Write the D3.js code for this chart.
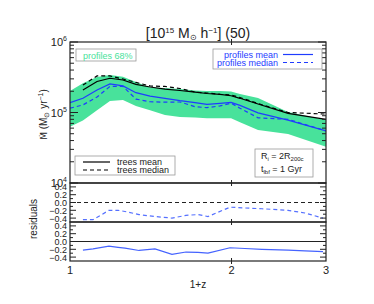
<!DOCTYPE html>
<html>
<head>
<meta charset="utf-8">
<script src="https://cdn.jsdelivr.net/npm/d3@7"></script>
<style>
  body { margin: 0; background: #fff; }
  svg { font-family: "Liberation Sans", Arial, sans-serif; }
</style>
</head>
<body>
<div id="chart"></div>
<script>
// 1+z knots for the main panel
const zMain = [1.0, 1.057, 1.123, 1.187, 1.255, 1.327, 1.41, 1.503, 1.603, 1.71, 1.8, 1.904, 1.996, 2.074, 2.241, 2.549, 3.0];
// trees start at the second knot
const treesMean = [null, 2.08e5, 2.75e5, 3.06e5, 2.89e5, 2.51e5, 2.30e5, 2.15e5, 2.05e5, 1.94e5, 1.86e5, 1.81e5, 1.73e5, 1.59e5, 1.32e5, 9.7e4, 8.0e4];
const treesMedian = [null, 2.45e5, 3.30e5, 3.30e5, 2.99e5, 2.67e5, 2.38e5, 2.34e5, 2.19e5, 1.95e5, 1.89e5, 1.81e5, 1.77e5, 1.63e5, 1.34e5, 1.0e5, 9.5e4];
const profMean = [1.38e5, 1.59e5, 2.08e5, 2.54e5, 2.38e5, 1.91e5, 1.71e5, 1.59e5, 1.47e5, 1.38e5, 1.30e5, 1.35e5, 1.39e5, 1.26e5, 9.9e4, 7.8e4, 5.5e4];
const profMedian = [1.15e5, 1.28e5, 1.66e5, 2.34e5, 2.34e5, 1.55e5, 1.42e5, 1.40e5, 1.41e5, 1.21e5, 1.17e5, 1.24e5, 1.36e5, 1.15e5, 8.4e4, 8.0e4, 5.5e4];
const band68Hi = [2.02e5, 2.59e5, 3.19e5, 3.40e5, 3.22e5, 2.71e5, 2.26e5, 2.23e5, 2.16e5, 2.05e5, 2.02e5, 2.02e5, 1.99e5, 1.83e5, 1.61e5, 1.02e5, 7.8e4];
const band68Lo = [6.3e4, 7.7e4, 1.08e5, 1.46e5, 1.50e5, 1.24e5, 1.08e5, 9.2e4, 8.6e4, 8.5e4, 8.3e4, 8.3e4, 8.3e4, 7.3e4, 5.65e4, 4.95e4, 3.27e4];

// residual panels
const zRes = [1.057, 1.104, 1.182, 1.229, 1.266, 1.345, 1.44, 1.549, 1.645, 1.732, 1.808, 1.987, 2.119, 2.279, 2.549, 2.741, 2.962];
const resMedian = [-0.44, -0.44, -0.20, -0.20, -0.23, -0.31, -0.36, -0.40, -0.33, -0.31, -0.36, -0.12, -0.14, -0.16, -0.20, -0.27, -0.40];
const resMean = [-0.22, -0.19, -0.12, -0.15, -0.17, -0.23, -0.19, -0.33, -0.27, -0.28, -0.30, -0.16, -0.18, -0.20, -0.22, -0.24, -0.26];

const xTicks = [1, 2, 3];
const yDecades = [1e4, 1e5, 1e6];
const resTicks = [-0.4, -0.2, 0.0, 0.2, 0.4];

const W = 374, H = 304;
const left = 70, right = 326;
const mainTop = 42, mainBot = 183;
const res1Bot = 222, res2Bot = 261;

const green = "#48e29b";
const blue = "#1f3cff";
const ink = "#222";

const svg = d3.select("#chart").append("svg").attr("width", W).attr("height", H);

const x = d3.scaleLog().domain([1, 3]).range([left, right]);
const y = d3.scaleLog().domain([1e4, 1e6]).range([mainBot, mainTop]);
const yR1 = d3.scaleLinear().domain([-0.5, 0.5]).range([res1Bot, mainBot]);
const yR2 = d3.scaleLinear().domain([-0.5, 0.5]).range([res2Bot, res1Bot]);

// clip to the panel area
svg.append("clipPath").attr("id", "clipMain")
  .append("rect").attr("x", left).attr("y", mainTop).attr("width", right - left).attr("height", mainBot - mainTop);

const mainG = svg.append("g").attr("clip-path", "url(#clipMain)");

const area = d3.area()
  .x((d, i) => x(zMain[i]))
  .y0((d, i) => y(band68Lo[i]))
  .y1((d, i) => y(band68Hi[i]));

mainG.append("path")
  .datum(zMain)
  .attr("d", area)
  .attr("fill", green);

const lineMain = d3.line()
  .defined(d => d[1] != null)
  .x(d => x(d[0]))
  .y(d => y(d[1]));

const series = [
  { v: treesMean, color: "#000", dash: null },
  { v: treesMedian, color: "#000", dash: "4,3" },
  { v: profMean, color: blue, dash: null },
  { v: profMedian, color: blue, dash: "4,3" }
];
series.forEach(s => {
  mainG.append("path")
    .datum(zMain.map((z, i) => [z, s.v[i]]))
    .attr("d", lineMain)
    .attr("fill", "none")
    .attr("stroke", s.color)
    .attr("stroke-width", 1.2)
    .attr("stroke-dasharray", s.dash);
});

// residual panels
const res1 = svg.append("g");
res1.append("line")
  .attr("x1", left).attr("x2", right)
  .attr("y1", yR1(0)).attr("y2", yR1(0))
  .attr("stroke", ink).attr("stroke-width", 1.2).attr("stroke-dasharray", "4,3");
res1.append("path")
  .datum(zRes.map((z, i) => [z, resMedian[i]]))
  .attr("d", d3.line().x(d => x(d[0])).y(d => yR1(d[1])))
  .attr("fill", "none").attr("stroke", "#5570ff").attr("stroke-width", 1.2)
  .attr("stroke-dasharray", "4,3");

const res2 = svg.append("g");
res2.append("line")
  .attr("x1", left).attr("x2", right)
  .attr("y1", yR2(0)).attr("y2", yR2(0))
  .attr("stroke", ink).attr("stroke-width", 1.2);
res2.append("path")
  .datum(zRes.map((z, i) => [z, resMean[i]]))
  .attr("d", d3.line().x(d => x(d[0])).y(d => yR2(d[1])))
  .attr("fill", "none").attr("stroke", "#4563ff").attr("stroke-width", 1.2);

// frames
[[mainTop, mainBot], [mainBot, res1Bot], [res1Bot, res2Bot]].forEach(([t, b]) => {
  svg.append("rect")
    .attr("x", left).attr("y", t)
    .attr("width", right - left).attr("height", b - t)
    .attr("fill", "none").attr("stroke", ink).attr("stroke-width", 1.2);
});

// ticks
const tickG = svg.append("g").attr("stroke", ink).attr("stroke-width", 1);
// log y ticks on main panel
const minorY = [];
[1e4, 1e5].forEach(dec => { for (let k = 2; k <= 9; k++) minorY.push(dec * k); });
minorY.forEach(v => {
  tickG.append("line").attr("x1", left).attr("x2", left + 4).attr("y1", y(v)).attr("y2", y(v));
  tickG.append("line").attr("x1", right).attr("x2", right - 4).attr("y1", y(v)).attr("y2", y(v));
});
yDecades.forEach(v => {
  tickG.append("line").attr("x1", left).attr("x2", left + 8).attr("y1", y(v)).attr("y2", y(v));
  tickG.append("line").attr("x1", right).attr("x2", right - 8).attr("y1", y(v)).attr("y2", y(v));
});
// residual y ticks
[yR1, yR2].forEach(sc => {
  d3.range(-0.4, 0.41, 0.1).forEach(v => {
    const major = Math.abs(Math.round(v * 10)) % 2 === 0;
    const len = major ? 6 : 3;
    tickG.append("line").attr("x1", left).attr("x2", left + len).attr("y1", sc(v)).attr("y2", sc(v));
    tickG.append("line").attr("x1", right).attr("x2", right - len).attr("y1", sc(v)).attr("y2", sc(v));
  });
});
// x ticks at 2 on each panel edge
[mainTop, mainBot, res1Bot, res2Bot].forEach(py => {
  const xv = x(2);
  tickG.append("line").attr("x1", xv).attr("x2", xv).attr("y1", py - 3).attr("y2", py + 3);
});

// tick labels
const labG = svg.append("g").attr("fill", ink).attr("font-size", 11);
yDecades.forEach(v => {
  const t = labG.append("text")
    .attr("x", left - 3).attr("y", y(v) + 4)
    .attr("text-anchor", "end");
  t.append("tspan").text("10");
  t.append("tspan").attr("dy", -5).attr("font-size", 7).text(Math.log10(v));
});
[yR1, yR2].forEach(sc => {
  resTicks.forEach(v => {
    labG.append("text")
      .attr("x", left - 3).attr("y", sc(v) + 3.5)
      .attr("text-anchor", "end")
      .attr("font-size", 9)
      .text(d3.format(".1f")(v).replace("-", "\u2212"));
  });
});
xTicks.forEach(v => {
  labG.append("text")
    .attr("x", x(v)).attr("y", 274)
    .attr("text-anchor", "middle")
    .text(v);
});
labG.append("text")
  .attr("x", (left + right) / 2).attr("y", 288)
  .attr("text-anchor", "middle").attr("font-size", 10)
  .text("1+z");

// axis titles
const yl = labG.append("text")
  .attr("transform", `translate(47,${(mainTop + mainBot) / 2 + 2}) rotate(-90)`)
  .attr("text-anchor", "middle").attr("font-size", 10);
yl.append("tspan").attr("font-family", "DejaVu Sans").attr("font-size", 9).text("M\u0307");
yl.append("tspan").text(" (M");
yl.append("tspan").attr("font-size", 7).attr("dy", 2).text("\u2299");
yl.append("tspan").attr("dy", -2).text(" yr");
yl.append("tspan").attr("font-size", 7).attr("dy", -4).text("\u22121");
yl.append("tspan").attr("dy", 4).text(")");

labG.append("text")
  .attr("transform", `translate(37,219) rotate(-90)`)
  .attr("text-anchor", "middle").attr("font-size", 10)
  .text("residuals");

// title
const title = svg.append("text")
  .attr("x", 198).attr("y", 38)
  .attr("text-anchor", "middle").attr("font-size", 14).attr("fill", ink);
title.append("tspan").text("[10");
title.append("tspan").attr("dy", -5).attr("font-size", 8).text("15");
title.append("tspan").attr("dy", 5).text(" M");
title.append("tspan").attr("dy", 2).attr("font-size", 8).text("\u2299");
title.append("tspan").attr("dy", -2).text(" h");
title.append("tspan").attr("dy", -5).attr("font-size", 8).text("\u22121");
title.append("tspan").attr("dy", 5).text("] (50)");

// legends
const legG = svg.append("g").attr("font-size", 9);
const boxStroke = "#999";

// profiles 68%
legG.append("rect").attr("x", 76).attr("y", 49).attr("width", 60).attr("height", 12)
  .attr("fill", "#fff").attr("stroke", boxStroke).attr("stroke-width", 0.8);
legG.append("text").attr("x", 83).attr("y", 58.5).attr("fill", green).text("profiles  68%");

// profiles mean / median
legG.append("rect").attr("x", 213).attr("y", 49).attr("width", 109).attr("height", 20)
  .attr("fill", "#fff").attr("stroke", boxStroke).attr("stroke-width", 0.8);
[["profiles  mean", null, 57.5], ["profiles  median", "4,3", 65.5]].forEach(([lab, dash, yy]) => {
  legG.append("text").attr("x", 278).attr("y", yy).attr("text-anchor", "end").attr("fill", blue).text(lab);
  legG.append("line").attr("x1", 283).attr("x2", 313).attr("y1", yy - 3).attr("y2", yy - 3)
    .attr("stroke", blue).attr("stroke-width", 1.2).attr("stroke-dasharray", dash);
});

// trees mean / median
legG.append("rect").attr("x", 75).attr("y", 156).attr("width", 100).attr("height", 19)
  .attr("fill", "#fff").attr("stroke", boxStroke).attr("stroke-width", 0.8);
[["trees  mean", null, 165], ["trees  median", "4,3", 173]].forEach(([lab, dash, yy]) => {
  legG.append("line").attr("x1", 83).attr("x2", 110).attr("y1", yy - 3).attr("y2", yy - 3)
    .attr("stroke", "#000").attr("stroke-width", 1.2).attr("stroke-dasharray", dash);
  legG.append("text").attr("x", 117).attr("y", yy).attr("fill", ink).text(lab);
});

// parameter box
legG.append("rect").attr("x", 255).attr("y", 149).attr("width", 58).attr("height", 28)
  .attr("fill", "#fff").attr("stroke", boxStroke).attr("stroke-width", 0.8);
const p1 = legG.append("text").attr("x", 261).attr("y", 159).attr("fill", ink);
p1.append("tspan").text("R");
p1.append("tspan").attr("dy", 2).attr("font-size", 6).text("i");
p1.append("tspan").attr("dy", -2).text("  =  2R");
p1.append("tspan").attr("dy", 2).attr("font-size", 6).text("200c");
const p2 = legG.append("text").attr("x", 261).attr("y", 172).attr("fill", ink);
p2.append("tspan").text("t");
p2.append("tspan").attr("dy", 2).attr("font-size", 6).text("lbf");
p2.append("tspan").attr("dy", -2).text("  =  1  Gyr");
</script>
</body>
</html>
